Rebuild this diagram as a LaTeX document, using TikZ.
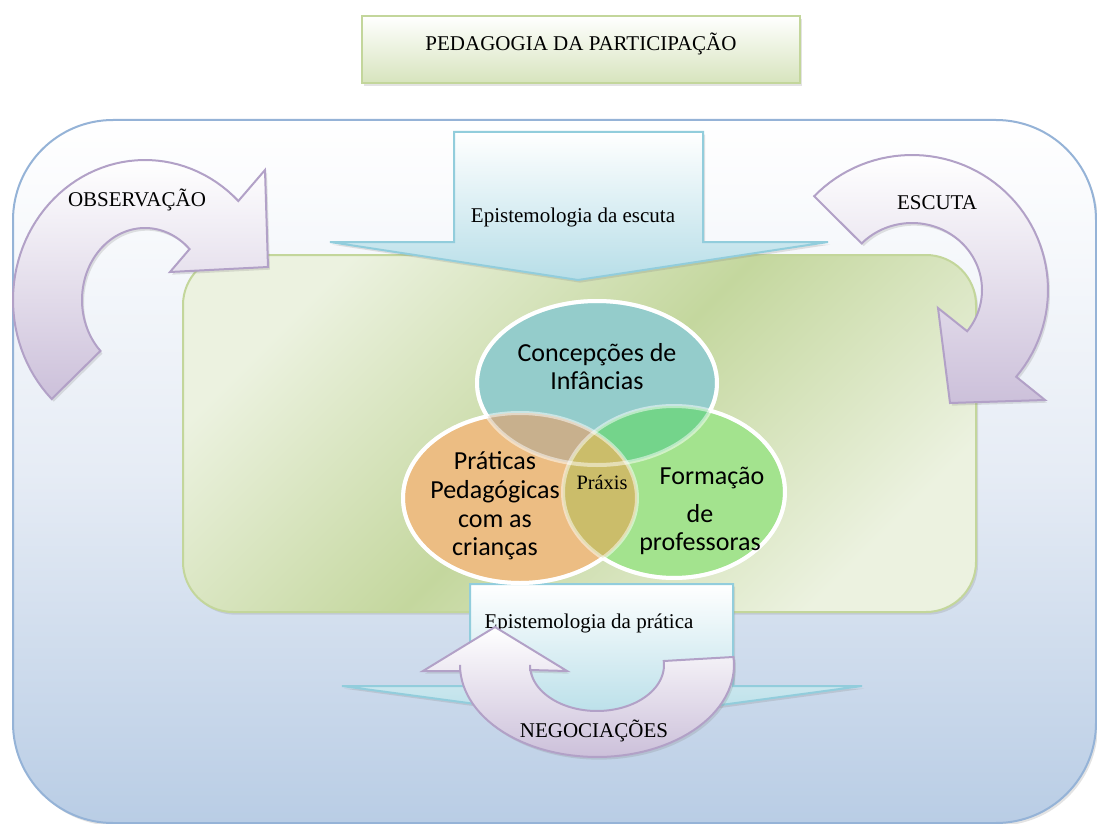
\documentclass[tikz,border=0pt]{standalone}
\usepackage{fontspec}
\setmainfont{Liberation Serif}
\newfontfamily\calib{Carlito}
\usetikzlibrary{shadows}
\definecolor{bluebd}{RGB}{149,179,215}
\definecolor{bluebot}{RGB}{185,205,229}
\definecolor{bluemid}{RGB}{230,236,245}
\definecolor{greenbd}{RGB}{195,214,155}
\definecolor{greensat}{RGB}{196,215,158}
\definecolor{greenlt}{RGB}{236,242,224}
\definecolor{titlebot}{RGB}{215,228,189}
\definecolor{cyanbd}{RGB}{146,205,220}
\definecolor{cyanbot}{RGB}{183,222,232}
\definecolor{lavbd}{RGB}{178,161,199}
\definecolor{lavbot}{RGB}{204,192,218}
\definecolor{cteal}{RGB}{148,204,203}
\definecolor{corange}{RGB}{236,189,131}
\definecolor{cgreen}{RGB}{163,227,142}
\definecolor{ctealor}{RGB}{200,176,141}
\definecolor{ctealgr}{RGB}{116,212,139}
\definecolor{corgr}{RGB}{203,189,106}
\tikzset{
  shd/.style={drop shadow={opacity=0.22, shadow xshift=1.5pt, shadow yshift=-2pt}},
  lavarrow/.style={draw=lavbd, line width=1.5pt, top color=white, bottom color=lavbot, shd},
  cyanarrow/.style={draw=cyanbd, line width=1.5pt, top color=white, bottom color=cyanbot, shd},
  serif/.style={font=\fontsize{15.75}{18}\selectfont, inner sep=0pt},
  sans/.style={font=\calib\fontsize{19.5}{21}\selectfont, align=center, inner sep=0pt},
  rim/.style={draw=white, line width=3pt}
}
\begin{document}
\begin{tikzpicture}[x=0.75pt,y=-0.75pt]
\useasboundingbox (0,0) rectangle (1097,824);

% outer blue panel
\path[draw=bluebd, line width=1.5pt, rounded corners=75pt, top color=white, bottom color=bluebot, middle color=bluemid, shd]
  (13,120) rectangle (1096,823);

% green panel
\path[draw=greenbd, line width=1.5pt, rounded corners=37.5pt, top color=greenlt, bottom color=greenlt, middle color=greensat, shading angle=45, shd]
  (183,255) rectangle (976,612);

% title box
\path[draw=greenbd, line width=1.8pt, top color=white, bottom color=titlebot, shd] (362,16) rectangle (800,83);
\node[serif] (title) at (581,44) {PEDAGOGIA DA PARTICIPAÇÃO};

% down arrow: Epistemologia da escuta
\path[cyanarrow] (454,132) -- (703,132) -- (703,242) -- (828,242) -- (578,280) -- (330,242) -- (454,242) -- cycle;
\node[serif] (escuta) at (573,217) {Epistemologia da escuta};

% bottom arrow: Epistemologia da pratica
\path[cyanarrow] (470,584) -- (733,584) -- (733,686) -- (862,686) -- (602,721) -- (342,686) -- (470,686) -- cycle;
\node[serif] (pratica) at (589,623) {Epistemologia da prática};

% OBSERVACAO arrow
\path[lavarrow]
  plot[domain=135:315, samples=60, variable=\t] ({145+132*cos(\t)},{300+140*sin(\t)})
  -- (265,170) -- (268,267) -- (170,272)
  -- plot[domain=0:180, samples=60, variable=\u] ({145+63*cos(315-\u)},{300+72*sin(315-\u)})
  -- cycle;
\node[serif] (obs) at (137,200) {OBSERVAÇÃO};

% ESCUTA arrow
\path[lavarrow]
  plot[domain=224:400, samples=60, variable=\t] ({912+136*cos(\t)},{290+135*sin(\t)})
  -- (1045,400) -- (950,403) -- (938,308)
  -- plot[domain=0:174, samples=60, variable=\u] ({912+70*cos(398-\u)},{290+67*sin(398-\u)})
  -- cycle;
\node[serif] (esc) at (937,203) {ESCUTA};

% NEGOCIACOES arrow
\path[lavarrow]
  (495,627) -- (567,671) -- (530,670)
  -- plot[domain=0:185, samples=60, variable=\u] ({597-67*cos(\u)},{665+46*sin(\u)})
  -- plot[domain=-5:180, samples=60, variable=\t] ({597+137*cos(\t)},{665+92*sin(\t)})
  -- (460,671) -- (423,671) -- cycle;
\node[serif] (neg) at (594,731) {NEGOCIAÇÕES};

% ellipses
\fill[cteal] (597,383) ellipse[x radius=90pt, y radius=61.5pt];
\fill[corange] (520,498) ellipse[x radius=87.75pt, y radius=63.75pt];
\fill[cgreen] (674,492) ellipse[x radius=83.25pt, y radius=64.5pt];
\begin{scope}
  \clip (597,383) ellipse[x radius=90pt, y radius=61.5pt];
  \fill[ctealor] (520,498) ellipse[x radius=87.75pt, y radius=63.75pt];
  \fill[ctealgr] (674,492) ellipse[x radius=83.25pt, y radius=64.5pt];
\end{scope}
\begin{scope}
  \clip (520,498) ellipse[x radius=87.75pt, y radius=63.75pt];
  \fill[corgr] (674,492) ellipse[x radius=83.25pt, y radius=64.5pt];
\end{scope}
% rims, translucent inside the overlaps
\draw[rim, draw opacity=0.5] (597,383) ellipse[x radius=90pt, y radius=61.5pt];
\draw[rim, draw opacity=0.5] (520,498) ellipse[x radius=87.75pt, y radius=63.75pt];
\draw[rim, draw opacity=0.5] (674,492) ellipse[x radius=83.25pt, y radius=64.5pt];
\begin{scope}[even odd rule]
  \clip (0,0) rectangle (1097,824) (520,498) ellipse[x radius=87.75pt, y radius=63.75pt];
  \begin{scope}[even odd rule]
    \clip (0,0) rectangle (1097,824) (674,492) ellipse[x radius=83.25pt, y radius=64.5pt];
    \draw[rim] (597,383) ellipse[x radius=90pt, y radius=61.5pt];
  \end{scope}
\end{scope}
\begin{scope}[even odd rule]
  \clip (0,0) rectangle (1097,824) (597,383) ellipse[x radius=90pt, y radius=61.5pt];
  \begin{scope}[even odd rule]
    \clip (0,0) rectangle (1097,824) (674,492) ellipse[x radius=83.25pt, y radius=64.5pt];
    \draw[rim] (520,498) ellipse[x radius=87.75pt, y radius=63.75pt];
  \end{scope}
\end{scope}
\begin{scope}[even odd rule]
  \clip (0,0) rectangle (1097,824) (597,383) ellipse[x radius=90pt, y radius=61.5pt];
  \begin{scope}[even odd rule]
    \clip (0,0) rectangle (1097,824) (520,498) ellipse[x radius=87.75pt, y radius=63.75pt];
    \draw[rim] (674,492) ellipse[x radius=83.25pt, y radius=64.5pt];
  \end{scope}
\end{scope}

\node[sans] (conc) at (597,367) {Concepções de\\Infâncias};
\node[sans, font=\calib\fontsize{19.5}{21.5}\selectfont] (prat) at (495,506) {Práticas\\Pedagógicas\\com as\\crianças};
\node[sans, font=\calib\fontsize{19.5}{20.5}\selectfont] (form) at (700,511) {\hspace*{18pt}Formação\\[8pt]de\\professoras};
\node[serif, font=\fontsize{15.3}{18}\selectfont] (praxis) at (602,483) {Práxis};
\end{tikzpicture}
\end{document}
